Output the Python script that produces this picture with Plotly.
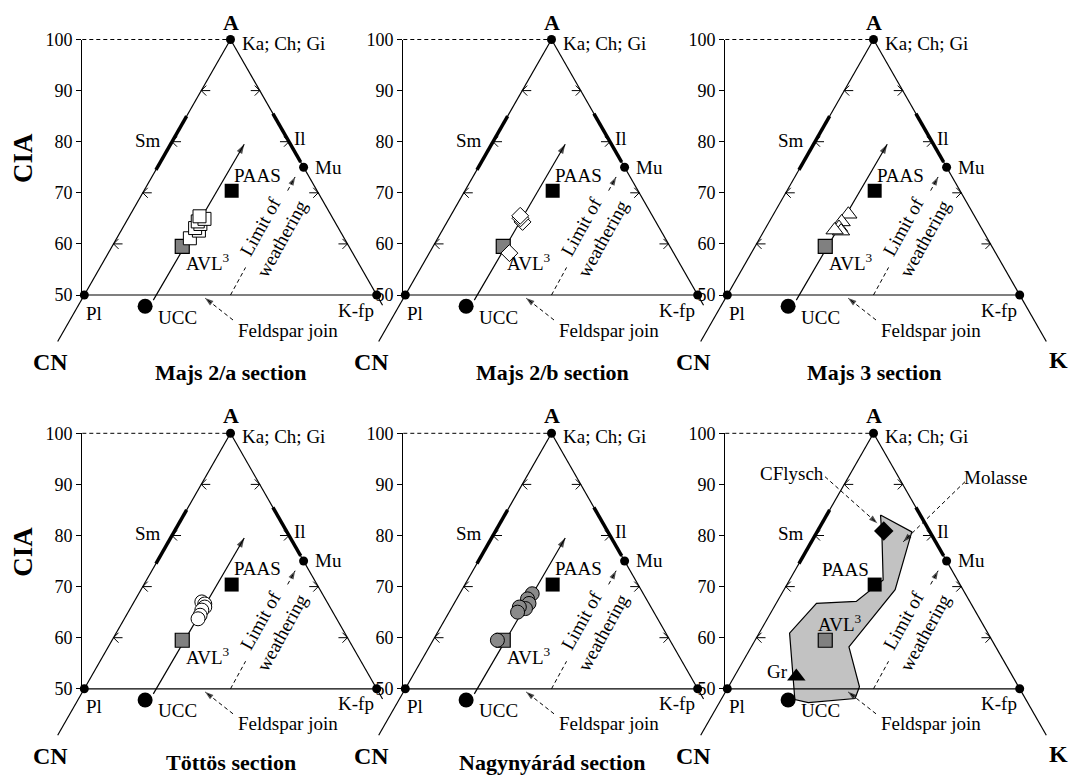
import plotly.graph_objects as go

# ---------------- data ----------------
panel_titles = ["Majs 2/a section", "Majs 2/b section", "Majs 3 section",
                "Töttös section", "Nagynyárád section", ""]
cia_ticks = [50, 60, 70, 80, 90, 100]
edge_ticks = [60, 70, 80, 90]

# compositions as (A %, K %) in the A-CN-K system
apex_A, apex_K = 100.0, 0.0          # Ka; Ch; Gi
mu_A, mu_K = 75.0, 25.0              # muscovite
pl_A, pl_K = 50.0, 0.0               # plagioclase
kfp_A, kfp_K = 50.0, 50.0            # K-feldspar
ucc_A, ucc_K = 47.8, 11.5
paas_A, paas_K = 70.4, 15.0
avl_A, avl_K = 59.5, 12.0
sm_A = [74.5, 85.0]
il_A = [76.0, 85.5]
trend_A = [49.0, 79.5]
trend_K = [12.3, 12.6]
low_A = 40.9

majs2a_A = [61.1, 62.6, 63.1, 63.9, 64.4, 64.9, 65.4]
majs2a_K = [12.5, 13.3, 12.4, 12.9, 12.2, 13.1, 12.0]
majs2b_A = [58.2, 64.3, 65.0, 65.5]
majs2b_K = [13.7, 12.9, 12.2, 11.9]
majs3_A = [65.8, 64.3, 63.2, 62.5, 62.7]
majs3_K = [12.8, 12.4, 12.5, 13.2, 12.0]
tottos_A = [67.0, 66.6, 66.0, 65.4, 64.4, 63.7]
tottos_K = [11.6, 12.3, 12.6, 12.4, 12.6, 12.6]
nagy_A = [68.6, 67.6, 66.7, 65.7, 66.0, 65.0, 59.5]
nagy_K = [12.4, 12.1, 12.8, 12.7, 11.5, 11.7, 11.0]

molasse_A = [84.0, 80.7, 69.4, 58.2, 50.4, 48.1, 47.3, 47.9, 60.9, 66.7, 67.1, 69.0, 71.3, 79.7, 84.0]
molasse_K = [9.2, 16.2, 19.0, 16.7, 22.4, 22.8, 15.2, 12.6, 5.2, 6.9, 13.5, 14.6, 16.0, 11.6, 9.2]
cflysch_A, cflysch_K = 80.9, 11.3
gr_A, gr_K = 52.4, 10.6

# ---------------- layout constants ----------------
W, H = 1072, 776
SX, SY = 5.848, 5.11
COL_OFF = [0, 321, 643]
ROW_OFF = [0, 393.8]
PL_X, BASE_Y = 84.3, 295.0
FONT = "Liberation Serif, Times New Roman, serif"
LBL = 19


def tern(A, K):
    return K + A / 2.0, A


def pxd(px, py):
    """panel-relative pixel position -> panel data coords"""
    return 25 + (px - PL_X) / SX, 50 - (py - BASE_Y) / SY


fig = go.Figure()
annotations = []
layout_axes = {}


def axname(i):
    return ("x", "y") if i == 1 else (f"x{i}", f"y{i}")


def keyname(i):
    return ("xaxis", "yaxis") if i == 1 else (f"xaxis{i}", f"yaxis{i}")


def line_trace(xa, ya, pts, width=1.2, dash=None, color="black"):
    xs, ys = [], []
    for seg in pts:
        for (x, y) in seg:
            xs.append(x)
            ys.append(y)
        xs.append(None)
        ys.append(None)
    fig.add_trace(go.Scatter(x=xs, y=ys, mode="lines", xaxis=xa, yaxis=ya,
                             line=dict(color=color, width=width, dash=dash),
                             hoverinfo="skip", showlegend=False))


def markers(xa, ya, A, K, symbol, size, fill, lw=1.0):
    xs = [k + a / 2 for a, k in zip(A, K)]
    fig.add_trace(go.Scatter(x=xs, y=list(A), mode="markers", xaxis=xa, yaxis=ya,
                             marker=dict(symbol=symbol, size=size, color=fill,
                                         line=dict(color="black", width=lw)),
                             hoverinfo="skip", showlegend=False))


def text(xa, ya, pos, s, size=LBL, angle=0, xanchor="center", bold=False, bg=None):
    x, y = pos
    d = dict(x=x, y=y, xref=xa, yref=ya, text=("<b>%s</b>" % s) if bold else s,
             showarrow=False, textangle=angle, xanchor=xanchor, yanchor="middle",
             font=dict(family=FONT, size=size, color="black"))
    if bg:
        d["bgcolor"] = bg
        d["borderpad"] = 0
    annotations.append(d)


def arrow(xa, ya, start, end, dash=None, width=1.0, head=9):
    line_trace(xa, ya, [[start, end]], width=width, dash=dash)
    dx = end[0] - start[0]
    dy = end[1] - start[1]
    lpx = ((dx * SX) ** 2 + (dy * SY) ** 2) ** 0.5
    f = 4.0 / lpx
    prev = (end[0] - f * dx, end[1] - f * dy)
    fig.add_trace(go.Scatter(x=[prev[0], end[0]], y=[prev[1], end[1]], mode="markers",
                             xaxis=xa, yaxis=ya,
                             marker=dict(symbol="arrow", size=[0, head], color="black",
                                         angleref="previous", line=dict(width=0)),
                             hoverinfo="skip", showlegend=False))


samples = [
    (majs2a_A, majs2a_K, "square", 13, "white"),
    (majs2b_A, majs2b_K, "diamond", 13, "white"),
    (majs3_A, majs3_K, "triangle-up", 15, "white"),
    (tottos_A, tottos_K, "circle", 14, "white"),
    (nagy_A, nagy_K, "circle", 14, "#8a8a8a"),
]

for p in range(6):
    c, r = p % 3, p // 3
    X0 = PL_X + COL_OFF[c]
    Y50 = BASE_Y + ROW_OFF[r]
    i = p + 1
    xa, ya = axname(i)
    xk, yk = keyname(i)
    layout_axes[xk] = dict(domain=[0, 1], range=[25 - X0 / SX, 25 + (W - X0) / SX],
                           visible=False, fixedrange=True, anchor=ya)
    layout_axes[yk] = dict(domain=[0, 1], range=[50 - (H - Y50) / SY, 50 + Y50 / SY],
                           visible=False, fixedrange=True, anchor=xa)

    # CIA axis (real plotly axis)
    j = p + 7
    xa2, ya2 = axname(j)
    xk2, yk2 = keyname(j)
    layout_axes[xk2] = dict(domain=[(X0 - 2) / W, (X0 - 1) / W], range=[0, 1], visible=False,
                            anchor=ya2, fixedrange=True)
    layout_axes[yk2] = dict(domain=[1 - Y50 / H, 1 - (Y50 - 50 * SY) / H], range=[50, 100],
                            anchor=xa2, side="left", tickvals=cia_ticks, ticks="outside",
                            ticklen=5, tickwidth=1, tickcolor="black", showline=True,
                            linecolor="black", linewidth=1.2, showgrid=False, zeroline=False,
                            automargin=False,
                            tickfont=dict(family=FONT, size=18, color="black"), fixedrange=True)
    fig.add_trace(go.Scatter(x=[0.5], y=[75], mode="markers", xaxis=xa2, yaxis=ya2,
                             marker=dict(opacity=0), hoverinfo="skip", showlegend=False))

    if p == 5:
        fig.add_trace(go.Scatter(x=[k + a / 2 for a, k in zip(molasse_A, molasse_K)], y=molasse_A,
                                 mode="lines", fill="toself", fillcolor="#c2c2c2",
                                 line=dict(color="black", width=1.2), xaxis=xa, yaxis=ya,
                                 hoverinfo="skip", showlegend=False))

    axis_x = 25 - 2 / SX
    right_end = low_A if c == 2 else 48.0
    line_trace(xa, ya, [
        [tern(low_A, 0), tern(apex_A, apex_K)],
        [tern(apex_A, apex_K), tern(right_end, 100 - right_end)],
        [(axis_x, 50), tern(kfp_A, kfp_K)],
    ], width=1.2)
    line_trace(xa, ya, [[(axis_x, 100), tern(apex_A, apex_K)]], width=1.0, dash="4px,3px")

    line_trace(xa, ya, [[tern(sm_A[0], 0), tern(sm_A[1], 0)],
                        [tern(il_A[0], 100 - il_A[0]), tern(il_A[1], 100 - il_A[1])]], width=3.5)

    segs = []
    for a in edge_ticks:
        vx, vy = tern(a, 0)
        segs.append([(vx, vy), (vx + 9 / SX, vy)])
        segs.append([(vx + 5 / SX, vy + 5 / SY), (vx, vy), (vx + 5 / SX, vy - 5 / SY)])
        wx, wy = tern(a, 100 - a)
        segs.append([(wx, wy), (wx - 9 / SX, wy)])
        segs.append([(wx - 5 / SX, wy + 5 / SY), (wx, wy), (wx - 5 / SX, wy - 5 / SY)])
    line_trace(xa, ya, segs, width=1.0)

    if p < 5:
        arrow(xa, ya, tern(trend_A[0], trend_K[0]), tern(trend_A[1], trend_K[1]), width=1.2, head=10)

    arrow(xa, ya, tern(50, 25), tern(73.1, 24.5), dash="4px,3px")
    arrow(xa, ya, pxd(233, 320), pxd(205, 298), dash="4px,3px")

    markers(xa, ya, [apex_A, mu_A, pl_A, kfp_A], [apex_K, mu_K, pl_K, kfp_K], "circle", 9, "black", 0)
    markers(xa, ya, [ucc_A], [ucc_K], "circle", 15, "black", 0)
    markers(xa, ya, [paas_A], [paas_K], "square", 14, "black", 0)
    markers(xa, ya, [avl_A], [avl_K], "square", 14, "#808080", 1.2)

    if p < 5:
        A, K, sym, sz, col = samples[p]
        markers(xa, ya, A, K, sym, sz, col, 1.0)
    else:
        markers(xa, ya, [cflysch_A], [cflysch_K], "diamond", 15, "black", 0)
        markers(xa, ya, [gr_A], [gr_K], "triangle-up", 16, "black", 0)
        arrow(xa, ya, pxd(182, 82.9), pxd(234.3, 129.5), dash="4px,3px")
        arrow(xa, ya, pxd(322, 87.9), pxd(260.3, 147.9), dash="4px,3px")

    text(xa, ya, pxd(231, 22), "A", size=22, bold=True)
    text(xa, ya, pxd(240, 43), "Ka; Ch; Gi", xanchor="left")
    text(xa, ya, pxd(148, 140), "Sm")
    text(xa, ya, pxd(300, 138), "Il")
    text(xa, ya, pxd(328, 167), "Mu")
    text(xa, ya, pxd(94, 313), "Pl")
    text(xa, ya, pxd(177, 317), "UCC")
    text(xa, ya, pxd(356, 310), "K-fp")
    text(xa, ya, pxd(288, 330), "Feldspar join")
    text(xa, ya, pxd(271, 233), "Limit of<br>weathering", angle=-61, bg="white")
    text(xa, ya, pxd(50, 362), "CN", size=24, bold=True)
    if c == 2:
        text(xa, ya, pxd(415, 360), "K", size=24, bold=True)
    if c == 0:
        text(xa, ya, pxd(23, 158), "CIA", size=27, angle=-90, bold=True)
    if p < 5:
        text(xa, ya, pxd(257, 175), "PAAS")
        text(xa, ya, pxd(208, 262), "AVL<sup>3</sup>")
        text(xa, ya, pxd(231, 372 if r == 0 else 369), panel_titles[p], size=22, bold=True)
    else:
        text(xa, ya, pxd(202, 176), "PAAS")
        text(xa, ya, pxd(197, 229.5), "AVL<sup>3</sup>")
        text(xa, ya, pxd(134, 278), "Gr")
        text(xa, ya, pxd(148.7, 79.5), "CFlysch")
        text(xa, ya, pxd(352, 83.5), "Molasse")

fig.update_layout(width=W, height=H, margin=dict(l=0, r=0, t=0, b=0, pad=0, autoexpand=False),
                  autosize=False, paper_bgcolor="white", plot_bgcolor="rgba(0,0,0,0)",
                  showlegend=False, annotations=annotations, **layout_axes)
fig.write_html("out.html", config={"responsive": False, "displayModeBar": False},
               post_script="document.body.style.margin='0';document.body.style.overflow='hidden';")
